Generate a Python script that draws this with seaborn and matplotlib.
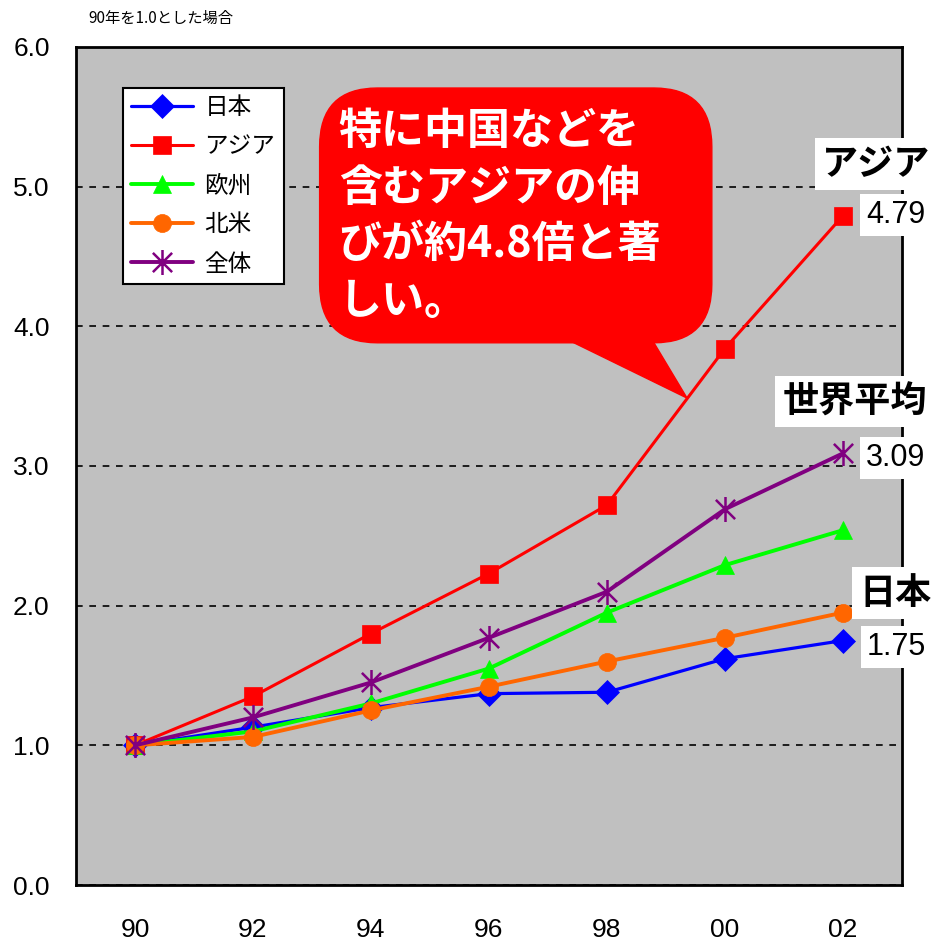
import matplotlib
matplotlib.use('Agg')
import matplotlib.pyplot as plt
import numpy as np
import pandas as pd
import seaborn as sns
from matplotlib.patches import FancyBboxPatch, Polygon
from matplotlib.path import Path

# data (index, 1990 = 1.0)
years = ['90', '92', '94', '96', '98', '00', '02']
regions = ['日本', 'アジア', '欧州', '北米', '全体']
japan = [1.00, 1.13, 1.27, 1.37, 1.38, 1.62, 1.75]
asia = [1.00, 1.35, 1.80, 2.23, 2.72, 3.84, 4.79]
europe = [1.00, 1.10, 1.30, 1.55, 1.95, 2.29, 2.54]
north_america = [1.00, 1.06, 1.25, 1.42, 1.60, 1.77, 1.95]
total = [1.00, 1.20, 1.45, 1.77, 2.10, 2.69, 3.09]
y_ticks = [0, 1, 2, 3, 4, 5, 6]

colors = ['#0000FF', '#FF0000', '#00FF00', '#FF6600', '#800080']

# excel-like asterisk: X plus a vertical bar
asterisk = Path([(-1, -1), (1, 1), (-1, 1), (1, -1), (0, -1.3), (0, 1.3)],
                [Path.MOVETO, Path.LINETO, Path.MOVETO, Path.LINETO, Path.MOVETO, Path.LINETO])
markers = ['D', 's', '^', 'o', asterisk]
marker_sizes = [12, 13, 13, 13, 18]
line_widths = [2.3, 2.2, 2.8, 2.8, 2.8]

df = pd.DataFrame({'year': years * 5,
                   'value': japan + asia + europe + north_america + total,
                   'region': np.repeat(regions, len(years))})

sns.set_style('white')
plt.rcParams['font.family'] = ['Liberation Sans', 'Noto Sans CJK JP', 'DejaVu Sans']
plt.rcParams['text.color'] = 'black'

fig = plt.figure(figsize=(9.33, 9.43), dpi=100)
ax = fig.add_axes([0.0815, 0.0615, 0.885, 0.8887])
ax.set_facecolor('#C0C0C0')

for i, name in enumerate(regions):
    sub = df[df['region'] == name]
    sns.lineplot(data=sub, x='year', y='value', ax=ax, sort=False, errorbar=None,
                 color=colors[i], marker=markers[i], markersize=marker_sizes[i],
                 markeredgecolor=colors[i], markeredgewidth=1.8 if i == 4 else 0.5,
                 linewidth=line_widths[i], label=name, zorder=3 + i)

ax.set_xlim(-0.5, 6.5)
ax.set_ylim(0, 6)
ax.set_yticks(y_ticks)
ax.set_yticklabels([f'{v:.1f}' for v in y_ticks], fontsize=19)
ax.set_xticks(range(len(years)))
ax.set_xticklabels(years, fontsize=19)
ax.set_xticks(np.arange(0.5, 6, 1), minor=True)
ax.tick_params(axis='x', which='major', length=0, pad=24, labelcolor='black')
ax.tick_params(axis='x', which='minor', direction='in', length=8, width=1.5, color='black')
ax.tick_params(axis='y', length=0, pad=19, labelcolor='black')
ax.set_xlabel('')
ax.set_ylabel('')
ax.yaxis.grid(True, linestyle=(0, (4, 4)), color='black', linewidth=1.2)
ax.set_axisbelow(True)
for s in ax.spines.values():
    s.set_color('black')
    s.set_linewidth(2.0)

leg = ax.legend(loc='upper left', bbox_to_anchor=(0.057, 0.951),
                frameon=True, fancybox=False, edgecolor='black', framealpha=1,
                handlelength=2.6, labelspacing=0.68, borderaxespad=0, borderpad=0.35,
                handletextpad=0.5, prop={'family': 'Noto Sans CJK JP', 'size': 17})
leg.get_frame().set_linewidth(1.5)
leg.set_zorder(20)
for t in leg.get_texts():
    t.set_color('black')

# speech bubble
bubble = FancyBboxPatch((0.295, 0.647), 0.475, 0.304,
                        boxstyle='round,pad=0,rounding_size=0.07',
                        transform=ax.transAxes, fc='#FF0000', ec='#FF0000', zorder=15)
ax.add_patch(bubble)
tail = Polygon([(0.576, 0.66), (0.692, 0.66), (0.740, 0.581)], closed=True,
               transform=ax.transAxes, fc='#FF0000', ec='#FF0000', zorder=15)
ax.add_patch(tail)
ax.text(0.318, 0.926, '特に中国などを\n含むアジアの伸\nびが約4.8倍と著\nしい。',
        transform=ax.transAxes, ha='left', va='top', color='white', fontsize=31,
        fontweight='bold', family=['Noto Sans CJK JP', 'DejaVu Sans'],
        linespacing=1.36, zorder=16)

# right-side labels
box = dict(boxstyle='square,pad=0.2', fc='white', ec='none')
fig.text(0.939, 0.826, 'アジア', ha='center', va='center', fontsize=26, fontweight='bold',
         family=['Noto Sans CJK JP'], color='black', bbox=box)
fig.text(0.960, 0.772, '4.79', ha='center', va='center', fontsize=22, color='black', bbox=box)
fig.text(0.916, 0.574, '世界平均', ha='center', va='center', fontsize=26, fontweight='bold',
         family=['Noto Sans CJK JP'], color='black', bbox=box)
fig.text(0.960, 0.514, '3.09', ha='center', va='center', fontsize=22, color='black', bbox=box)
fig.text(0.960, 0.371, '日本', ha='center', va='center', fontsize=26, fontweight='bold',
         family=['Noto Sans CJK JP'], color='black', bbox=box)
fig.text(0.961, 0.314, '1.75', ha='center', va='center', fontsize=22, color='black', bbox=box)

fig.text(88 / 933, 1 - 18 / 943, '90年を1.0とした場合', ha='left', va='center', fontsize=11,
         family=['Noto Sans CJK JP'], color='black')

fig.savefig('out.png', dpi=100, facecolor='white')
